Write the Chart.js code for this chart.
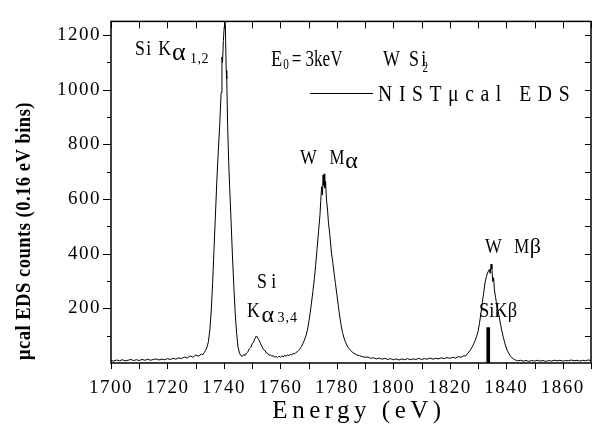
<!DOCTYPE html>
<html>
<head>
<meta charset="utf-8">
<script src="https://cdn.jsdelivr.net/npm/chart.js@4.4.0/dist/chart.umd.min.js"></script>
<style>
  html, body { margin: 0; padding: 0; background: #fff; }
  #wrap { width: 601px; height: 435px; }
</style>
</head>
<body>
<div id="wrap"><canvas id="chart" width="601" height="435"></canvas></div>
<script>
// WSi2 spectrum at E0 = 3 keV, counts per 0.16 eV bin
const energy = [
  1700, 1701, 1702, 1703, 1704, 1705, 1706, 1707, 1708, 1709, 1710, 1711, 1712, 1713, 1714, 1715,
  1716, 1717, 1718, 1719, 1720, 1721, 1722, 1723, 1724, 1725, 1726, 1727, 1728, 1729, 1730, 1731, 1732,
  1732.5, 1733, 1733.5, 1734, 1734.5, 1735, 1735.5, 1736, 1736.5, 1737, 1737.5, 1738, 1738.5, 1739,
  1739.3, 1739.5, 1739.8, 1740.1, 1740.3, 1740.5, 1740.8, 1741, 1741.3, 1741.7, 1742, 1742.5, 1743,
  1743.5, 1744, 1744.5, 1745, 1745.5, 1746, 1746.5, 1747, 1747.5,
  1748, 1748.5, 1749, 1749.5, 1750, 1750.5, 1751, 1751.5, 1752, 1752.5, 1753, 1753.5, 1754, 1754.5,
  1755, 1755.5, 1756, 1756.5, 1757, 1757.5, 1758, 1758.5, 1759, 1759.5, 1760, 1760.5, 1761, 1761.5,
  1762, 1762.5, 1763, 1763.5, 1764, 1764.5, 1765, 1765.5, 1766, 1766.5,
  1767, 1767.5, 1768, 1768.5, 1769, 1769.5, 1770, 1770.5, 1771, 1771.5, 1772, 1772.5, 1773, 1773.5,
  1774, 1774.3, 1774.6, 1774.9, 1775.1, 1775.3, 1775.5, 1775.7, 1776, 1776.3, 1776.7, 1777, 1777.5,
  1778, 1778.5, 1779, 1779.5, 1780, 1780.5, 1781, 1781.5, 1782, 1782.5, 1783, 1783.5, 1784, 1784.5,
  1785, 1785.5, 1786, 1787, 1788, 1789, 1790,
  1791, 1792, 1793, 1794, 1795, 1796, 1797, 1798, 1799, 1800, 1801, 1802, 1803, 1804, 1805, 1806,
  1807, 1808, 1809, 1810, 1811, 1812, 1813, 1814, 1815, 1816, 1817, 1818, 1819, 1820, 1821, 1822,
  1823, 1824, 1825,
  1825.5, 1826, 1826.5, 1827, 1827.5, 1828, 1828.5, 1829, 1829.5, 1830, 1830.5, 1831, 1831.5, 1832,
  1832.5, 1833, 1833.5, 1834, 1834.3, 1834.6, 1834.9, 1835.2, 1835.5, 1835.8, 1836.2, 1836.6, 1837,
  1837.5, 1838, 1838.5, 1839, 1839.5, 1840, 1840.5, 1841, 1841.5, 1842, 1842.5, 1843, 1843.5,
  1844, 1845, 1846, 1847, 1848, 1849, 1850, 1851, 1852, 1853, 1854, 1855, 1856, 1857, 1858, 1859,
  1860, 1861, 1862, 1863, 1864, 1865, 1866, 1867, 1868, 1869, 1870
];
const counts = [
  9, 7, 11, 8, 12, 8, 10, 13, 9, 12, 9, 13, 10, 14, 10, 13,
  15, 11, 14, 12, 16, 13, 17, 14, 19, 16, 22, 18, 26, 21, 29, 25, 33,
  30, 38, 46, 58, 78, 120, 190, 295, 420, 545, 670, 775, 870, 990,
  1120, 1100, 1180, 1230, 1265, 1235, 1070, 1040, 870, 730, 650, 525, 395,
  280, 180, 108, 58, 36, 27, 24, 31, 27,
  36, 41, 52, 57, 70, 77, 90, 99, 91, 82, 70, 60, 49, 46,
  37, 35, 28, 30, 24, 27, 21, 24, 20, 25, 21, 26, 22, 28,
  24, 30, 27, 32, 29, 35, 33, 39, 41, 46,
  53, 61, 72, 84, 98, 118, 146, 180, 220, 262, 305, 360, 420, 480,
  540, 595, 645, 615, 688, 650, 692, 640, 665, 600, 560, 515, 470,
  410, 372, 330, 290, 250, 210, 172, 138, 112, 92, 78, 66, 57, 50,
  45, 39, 36, 30, 27, 23, 21,
  22, 17, 19, 15, 18, 14, 17, 13, 16, 12, 15, 11, 15, 12, 16, 12,
  15, 13, 17, 13, 16, 14, 18, 14, 17, 15, 19, 16, 20, 17, 21, 18,
  23, 21, 27,
  25, 32, 36, 44, 51, 60, 71, 83, 98, 115, 145, 180, 220, 258,
  296, 318, 333, 342, 328, 362, 344, 298, 312, 268, 240, 214, 194,
  168, 140, 114, 92, 72, 55, 42, 33, 25, 19, 15, 12, 10,
  8, 10, 7, 9, 6, 9, 7, 10, 7, 9, 6, 9, 7, 10, 8, 10,
  7, 9, 8, 11, 8, 10, 7, 10, 8, 11, 9
];

// Si K-beta line marker
const siKbetaEnergy = [1833.6];
const siKbetaHeight = [130];

// labelled ticks
const xTickValues = [1700, 1720, 1740, 1760, 1780, 1800, 1820, 1840, 1860];
const yTickValues = [200, 400, 600, 800, 1000, 1200];

const SERIF = '"Liberation Serif", "Times New Roman", serif';

// peak labels, anchored in data units (eV, counts)
const notes = [
  { t: 'Si K', e: 1708.5, c: 1127, size: 21, sp: 1.5, sx: 0.85 },
  { t: 'α', e: 1721.6, c: 1110, size: 26 },
  { t: '1,2', e: 1728.0, c: 1099, size: 14, sp: 0.5 },
  { t: 'E', e: 1756.7, c: 1088, size: 23, sx: 0.8 },
  { t: '0', e: 1761.0, c: 1074, size: 14, sx: 0.8 },
  { t: '= 3keV', e: 1764.0, c: 1088, size: 23, sx: 0.74 },
  { t: 'W Si', e: 1796.3, c: 1088, size: 23, sp: 3, sx: 0.78 },
  { t: '2', e: 1810.3, c: 1064, size: 14, sx: 0.8 },
  { t: 'W', e: 1766.9, c: 730, size: 21, sx: 0.85 },
  { t: 'M', e: 1777.4, c: 730, size: 21, sx: 0.8 },
  { t: 'α', e: 1783.0, c: 713, size: 24 },
  { t: 'S i', e: 1751.7, c: 274, size: 21, sx: 0.85 },
  { t: 'K', e: 1748.2, c: 168, size: 21, sx: 0.85 },
  { t: 'α', e: 1753.3, c: 151, size: 24 },
  { t: '3,4', e: 1759.0, c: 151, size: 14, sp: 1 },
  { t: 'W', e: 1832.5, c: 404, size: 21, sx: 0.85 },
  { t: 'M', e: 1842.8, c: 404, size: 21, sx: 0.8 },
  { t: 'β', e: 1848.3, c: 404, size: 22 },
  { t: 'SiKβ', e: 1830.3, c: 168, size: 21, sx: 0.88 }
];

function putText(ctx, str, x, y, size, opts) {
  opts = opts || {};
  ctx.save();
  ctx.font = (opts.bold ? 'bold ' : '') + size + 'px ' + SERIF;
  ctx.letterSpacing = (opts.sp || 0) + 'px';
  ctx.fillStyle = '#000';
  ctx.textAlign = opts.align || 'left';
  ctx.textBaseline = opts.baseline || 'alphabetic';
  ctx.translate(x, y);
  if (opts.rot) ctx.rotate(opts.rot);
  ctx.scale(opts.sx || 1, 1);
  ctx.fillText(str, 0, 0);
  ctx.restore();
}

const framePlugin = {
  id: 'frame',
  beforeDraw(chart) {
    // spaced-out tick numbers
    chart.ctx.letterSpacing = '1.5px';
  },
  afterDraw(chart) {
    const ctx = chart.ctx;
    const xs = chart.scales.x, ys = chart.scales.y;
    const a = chart.chartArea;
    ctx.letterSpacing = '0px';
    ctx.save();
    ctx.strokeStyle = '#000';

    // box
    ctx.lineWidth = 1.5;
    ctx.strokeRect(a.left, a.top, a.right - a.left, a.bottom - a.top);

    // tick marks: outward on bottom/left, inward on top/right
    ctx.lineWidth = 1;
    ctx.beginPath();
    for (let v = xs.min; v <= xs.max; v += 10) {
      const px = Math.round(xs.getPixelForValue(v)) + 0.5;
      ctx.moveTo(px, a.bottom); ctx.lineTo(px, a.bottom + 6);
      ctx.moveTo(px, a.top); ctx.lineTo(px, a.top + 7);
    }
    for (let v = 100; v <= ys.max; v += 100) {
      const py = Math.round(ys.getPixelForValue(v)) + 0.5;
      const len = v % 200 === 0 ? 8 : 4;
      ctx.moveTo(a.left - len, py); ctx.lineTo(a.left, py);
      ctx.moveTo(a.right, py); ctx.lineTo(a.right - 6, py);
    }
    ctx.stroke();

    // legend: sample line + series name
    const ly = Math.round(ys.getPixelForValue(987)) + 0.5;
    ctx.beginPath();
    ctx.moveTo(xs.getPixelForValue(1770.5), ly);
    ctx.lineTo(xs.getPixelForValue(1792.8), ly);
    ctx.stroke();
    ctx.restore();

    putText(ctx, chart.data.datasets[0].label,
      xs.getPixelForValue(1794.6), ys.getPixelForValue(958), 24, { sp: 8, sx: 0.82 });

    notes.forEach(n => {
      putText(ctx, n.t, xs.getPixelForValue(n.e), ys.getPixelForValue(n.c), n.size,
        { sp: n.sp, sx: n.sx });
    });

    // axis titles
    putText(ctx, 'Energy (eV)', (a.left + a.right) / 2 + 8, 418, 25,
      { align: 'center', sp: 4.5 });
    putText(ctx, 'μcal EDS counts (0.16 eV bins)', 25, 231, 20,
      { align: 'center', baseline: 'middle', bold: true, sp: 0.5, sx: 0.93, rot: -Math.PI / 2 });
  }
};

const spectrum = energy.map((e, i) => ({ x: e, y: counts[i] }));
const marker = siKbetaEnergy.map((e, i) => ({ x: e, y: siKbetaHeight[i] }));

const tickFont = { family: SERIF, size: 19 };

new Chart(document.getElementById('chart'), {
  type: 'line',
  data: {
    datasets: [
      {
        label: 'NISTμcal EDS',
        data: spectrum,
        borderColor: '#000',
        borderWidth: 1,
        pointRadius: 0,
        tension: 0,
        fill: false
      },
      {
        type: 'bar',
        label: 'SiKβ',
        data: marker,
        backgroundColor: '#000',
        barThickness: 3
      }
    ]
  },
  options: {
    responsive: false,
    animation: false,
    devicePixelRatio: 1,
    events: [],
    layout: { padding: { top: 7, right: 10, left: 0, bottom: 0 } },
    plugins: { legend: { display: false }, tooltip: { enabled: false } },
    scales: {
      x: {
        type: 'linear',
        min: 1700,
        max: 1870,
        offset: false,
        grid: { display: false, drawTicks: false },
        border: { display: false },
        afterBuildTicks: s => { s.ticks = xTickValues.map(v => ({ value: v })); },
        afterFit: s => { s.height = 72; },
        ticks: {
          autoSkip: false, maxRotation: 0, padding: 14,
          color: '#000', font: tickFont,
          callback: v => String(v)
        }
      },
      y: {
        type: 'linear',
        min: 0,
        max: 1250,
        grid: { display: false, drawTicks: false },
        border: { display: false },
        afterBuildTicks: s => { s.ticks = yTickValues.map(v => ({ value: v })); },
        afterFit: s => { s.width = 111; },
        ticks: {
          autoSkip: false, padding: 10,
          color: '#000', font: tickFont,
          callback: v => String(v)
        }
      }
    }
  },
  plugins: [framePlugin]
});
</script>
</body>
</html>
